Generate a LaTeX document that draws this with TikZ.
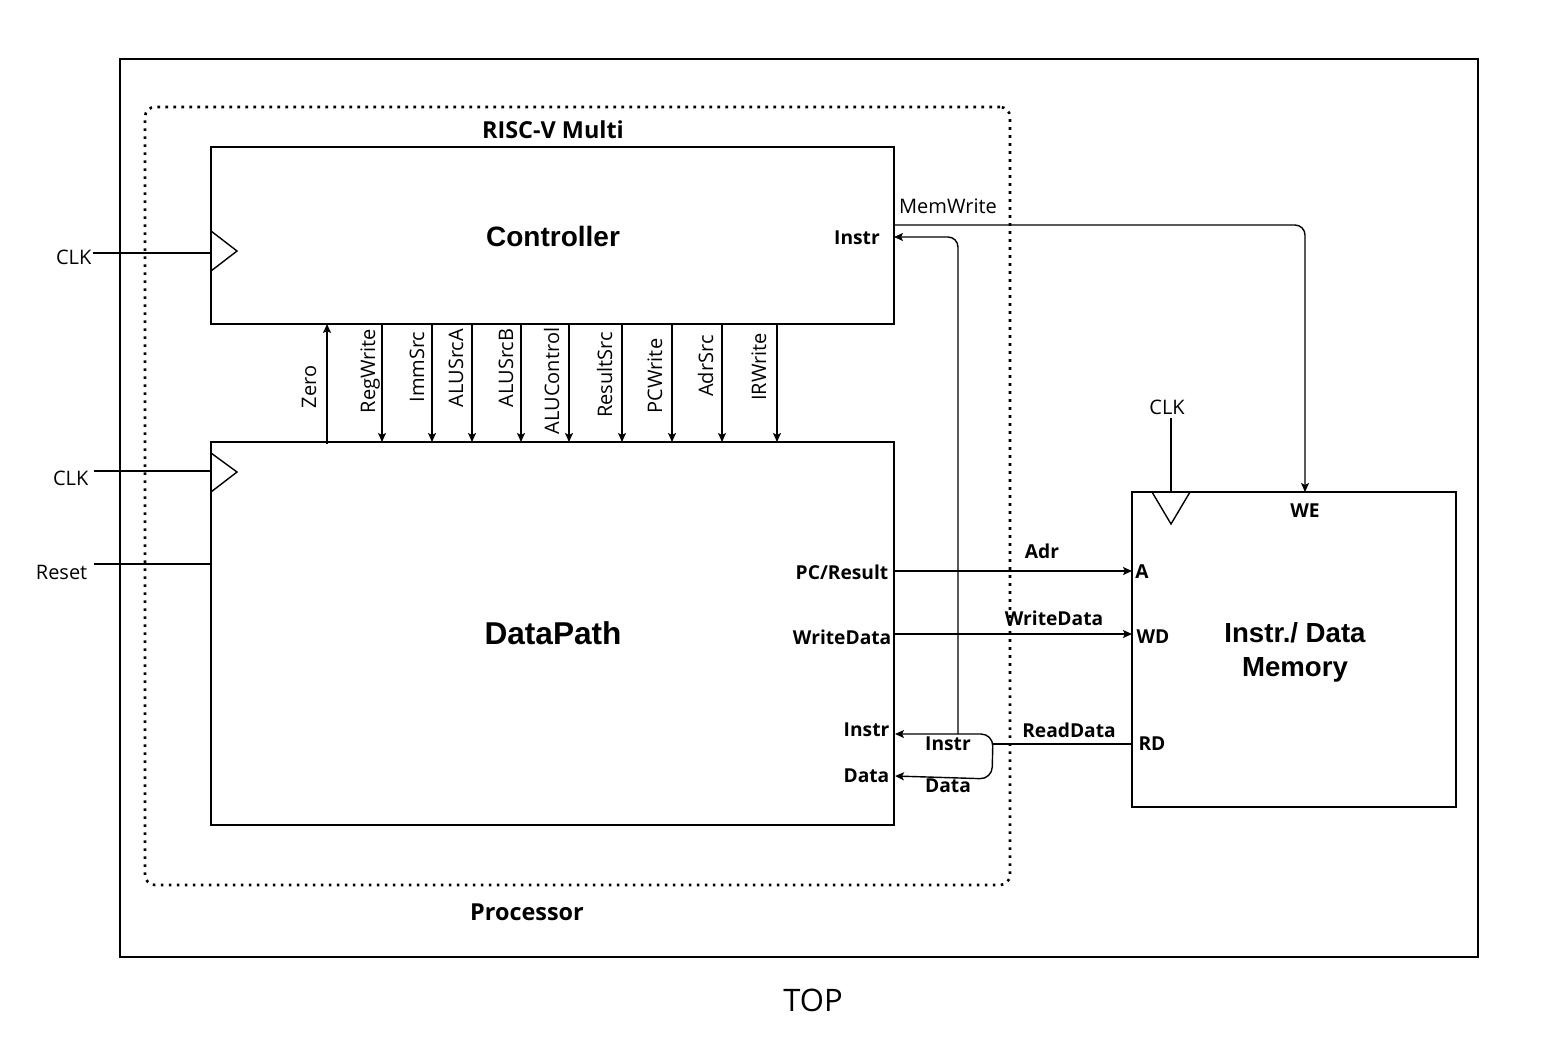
\documentclass[tikz,border=0pt]{standalone}
\usepackage{fontspec}
\setmainfont{Open Sans}
\newfontfamily\lib{Liberation Sans}
\usetikzlibrary{fit,arrows.meta}
\begin{document}
\begin{tikzpicture}[x=0.5pt,y=-0.5pt, line width=0.7pt,
  blk/.style={draw, inner sep=0pt},
  arr/.style={-{Stealth[length=4.5pt,width=4pt,inset=1pt]}},
  lbl/.style={font=\fontsize{10}{12}\selectfont, inner sep=0pt},
  blbl/.style={font=\fontsize{9.6}{11}\selectfont\bfseries, inner sep=0pt},
  ttl/.style={font=\fontsize{11.7}{14}\selectfont\bfseries, inner sep=0pt},
  big/.style={font=\lib\bfseries\fontsize{14}{16.5}\selectfont, inner sep=0pt, align=center},
  sig/.style={lbl, rotate=90, anchor=base},
]
\useasboundingbox (0,0) rectangle (1562,1044);

% outer frame
\node[blk, fit={(120,59) (1478,957)}] (top) {};
\node[font=\fontsize{15.5}{18}\selectfont, inner sep=0pt] (toplbl) at (813,1000) {TOP};

% processor group (dotted)
\node[draw, inner sep=0pt, line width=1.3pt, dash pattern=on 1.3pt off 2.7pt, rounded corners=5pt,
      fit={(145,107) (1010,885)}] (proc) {};
\node[ttl] (proclbl) at (527,912) {Processor};
\node[ttl] (risclbl) at (553,130) {RISC-V Multi};

% controller
\node[blk, fit={(211,147) (894,324)}] (ctrl) {};
\node[big] (ctrlname) at (553,236) {Controller};
\draw (211,231) -- (237,251) -- (211,271);
\node[lbl, anchor=east] (clkA) at (92,257) {CLK};
\coordinate (clkAend) at (93,253);
\coordinate (clkActrl) at (211,253);
\draw (clkAend) -- (clkActrl);

% datapath
\node[blk, fit={(211,442) (894,825)}] (dp) {};
\node[big, font=\lib\bfseries\fontsize{15.8}{18}\selectfont] (dpname) at (553,633) {DataPath};
\draw (211,453) -- (237,472) -- (211,492);
\node[lbl, anchor=east] (clkB) at (89,478) {CLK};
\coordinate (clkBend) at (94,471);
\coordinate (clkBdp) at (211,471);
\draw (clkBend) -- (clkBdp);
\node[lbl, anchor=east] (rst) at (88,572) {Reset};
\coordinate (rstend) at (94,564);
\coordinate (rstdp) at (211,564);
\draw (rstend) -- (rstdp);

% control signals
\coordinate (zeroS) at (327,444);
\coordinate (zeroE) at (327,324);
\draw[arr, line width=1pt] (zeroS) -- (zeroE);
\node[sig] (zerol) at (316,387) {Zero};
\foreach \sx/\sn/\lx/\ly in {382/RegWrite/375/371, 432/ImmSrc/424/367, 472/ALUSrcA/463/368,
   521/ALUSrcB/513/368, 569/ALUControl/559/381, 622/ResultSrc/612/375, 672/PCWrite/662/376,
   722/AdrSrc/713/366, 777/IRWrite/766/367}{
  \coordinate (s\sn) at (\sx,324);
  \coordinate (e\sn) at (\sx,442);
  \draw[arr] (s\sn) -- (e\sn);
  \node[sig] (l\sn) at (\lx,\ly) {\sn};
}

% memory
\node[blk, fit={(1132,492) (1456,807)}] (mem) {};
\node[big, font=\lib\bfseries\fontsize{13.8}{17}\selectfont] (memname) at (1295,652) {Instr./ Data\\Memory};
\draw (1152,492) -- (1171,524) -- (1190,492);
\node[lbl] (clkC) at (1167,407) {CLK};
\coordinate (clkCs) at (1171,418);
\coordinate (clkCe) at (1171,492);
\draw (clkCs) -- (clkCe);
\node[blbl] (we) at (1305,511) {WE};
\node[blbl] (pa) at (1142,572) {A};
\node[blbl] (pwd) at (1153,637) {WD};
\node[blbl] (prd) at (1152,744) {RD};

% MemWrite
\node[lbl] (mwl) at (948,206) {MemWrite};
\coordinate (mwS) at (894,225);
\coordinate (mwC) at (1305,225);
\coordinate (mwE) at (1305,492);
\draw[arr, rounded corners=5] (mwS) -- (mwC) -- (mwE);

% Instr feedback to controller
\node[blbl] (cinstr) at (857,238) {Instr};
\coordinate (fbS) at (958,734);
\coordinate (fbC) at (958,237);
\coordinate (fbE) at (894,237);
\draw[arr, rounded corners=5] (fbS) -- (fbC) -- (fbE);

% address / write data
\node[blbl, anchor=east] (pcr) at (889,572) {PC/Result};
\coordinate (adrS) at (894,571);
\coordinate (adrE) at (1132,571);
\draw[arr] (adrS) -- (adrE);
\node[blbl] (adrl) at (1042,551) {Adr};
\node[blbl, anchor=east] (wdl) at (892,637) {WriteData};
\coordinate (wdS) at (894,634);
\coordinate (wdE) at (1132,634);
\draw[arr] (wdS) -- (wdE);
\node[blbl] (wdl2) at (1054,618) {WriteData};

% read data split
\node[blbl] (rdl) at (1069,730) {ReadData};
\coordinate (rdS) at (1132,744);
\coordinate (rdJ) at (993,744);
\draw (rdS) -- (rdJ);
\coordinate (iE) at (895,734);
\coordinate (iC) at (993,734);
\coordinate (dC) at (992,779);
\coordinate (dE) at (895,776);
\draw[{Stealth[length=4.5pt,width=4pt,inset=1pt]}-{Stealth[length=4.5pt,width=4pt,inset=1pt]}, rounded corners=6]
  (iE) -- (iC) -- (dC) -- (dE);
\node[blbl] (il) at (948,744) {Instr};
\node[blbl] (dl) at (948,786) {Data};
\node[blbl, anchor=east] (dpi) at (890,730) {Instr};
\node[blbl, anchor=east] (dpd) at (890,776) {Data};
\end{tikzpicture}
\end{document}
